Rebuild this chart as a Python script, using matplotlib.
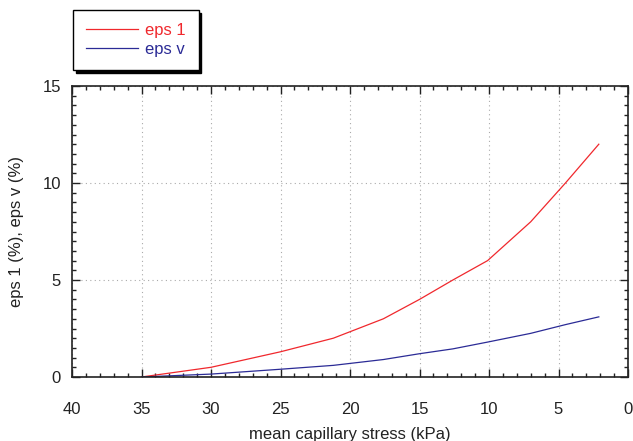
import matplotlib

matplotlib.use("Agg")
import matplotlib.pyplot as plt
from matplotlib.ticker import MultipleLocator

plt.rcParams["font.family"] = ["Liberation Sans", "DejaVu Sans"]

# mean capillary stress (kPa) and strains (%)
stress = [35, 30, 25, 21.2, 17.6, 15, 12.6, 10.1, 7, 4.5, 2.1]
eps_1 = [0, 0.5, 1.3, 2.0, 3.0, 4.0, 5.0, 6.0, 8.0, 10.0, 12.0]
eps_v = [0, 0.15, 0.4, 0.6, 0.9, 1.2, 1.45, 1.8, 2.25, 2.7, 3.1]

red = "#f0282d"
blue = "#2b2b96"

fig = plt.figure(figsize=(6.33, 4.41), dpi=100)
ax = fig.add_axes([72 / 633, 64 / 441, 556 / 633, 291 / 441])

ax.plot(stress, eps_1, color=red, lw=0.9, label="eps 1")
ax.plot(stress, eps_v, color=blue, lw=0.9, label="eps v")

ax.set_xlim(40, 0)
ax.set_ylim(0, 15)
ax.xaxis.set_major_locator(MultipleLocator(5))
ax.xaxis.set_minor_locator(MultipleLocator(1))
ax.yaxis.set_major_locator(MultipleLocator(5))
ax.yaxis.set_minor_locator(MultipleLocator(0.5))
ax.tick_params(which="both", direction="in", top=True, right=True, labelsize=12, width=1, colors="#222222")
ax.tick_params(which="major", length=6, pad=8)
ax.tick_params(axis="x", which="major", pad=18)
ax.tick_params(which="minor", length=3)
ax.grid(True, which="major", linestyle=(0, (1, 3)), color="#aaaaaa", lw=0.8)
for s in ax.spines.values():
    s.set_linewidth(1.2)
    s.set_color("#222222")

ax.set_xlabel("mean capillary stress (kPa)", fontsize=12, color="#222222", labelpad=7)
ax.set_ylabel("eps 1 (%), eps v (%)", fontsize=12, color="#222222", labelpad=13)

leg = fig.legend(
    loc="lower left",
    bbox_to_anchor=(73 / 633, 1 - 70 / 441),
    frameon=True,
    fancybox=False,
    shadow={"color": "black", "alpha": 1},
    edgecolor="black",
    fontsize=12,
    handlelength=3.1,
    labelcolor="linecolor",
    borderpad=0.8,
    labelspacing=0.2,
    handletextpad=0.4,
    borderaxespad=0,
)
leg.get_frame().set_linewidth(1.0)

fig.savefig("out.png", dpi=100)
